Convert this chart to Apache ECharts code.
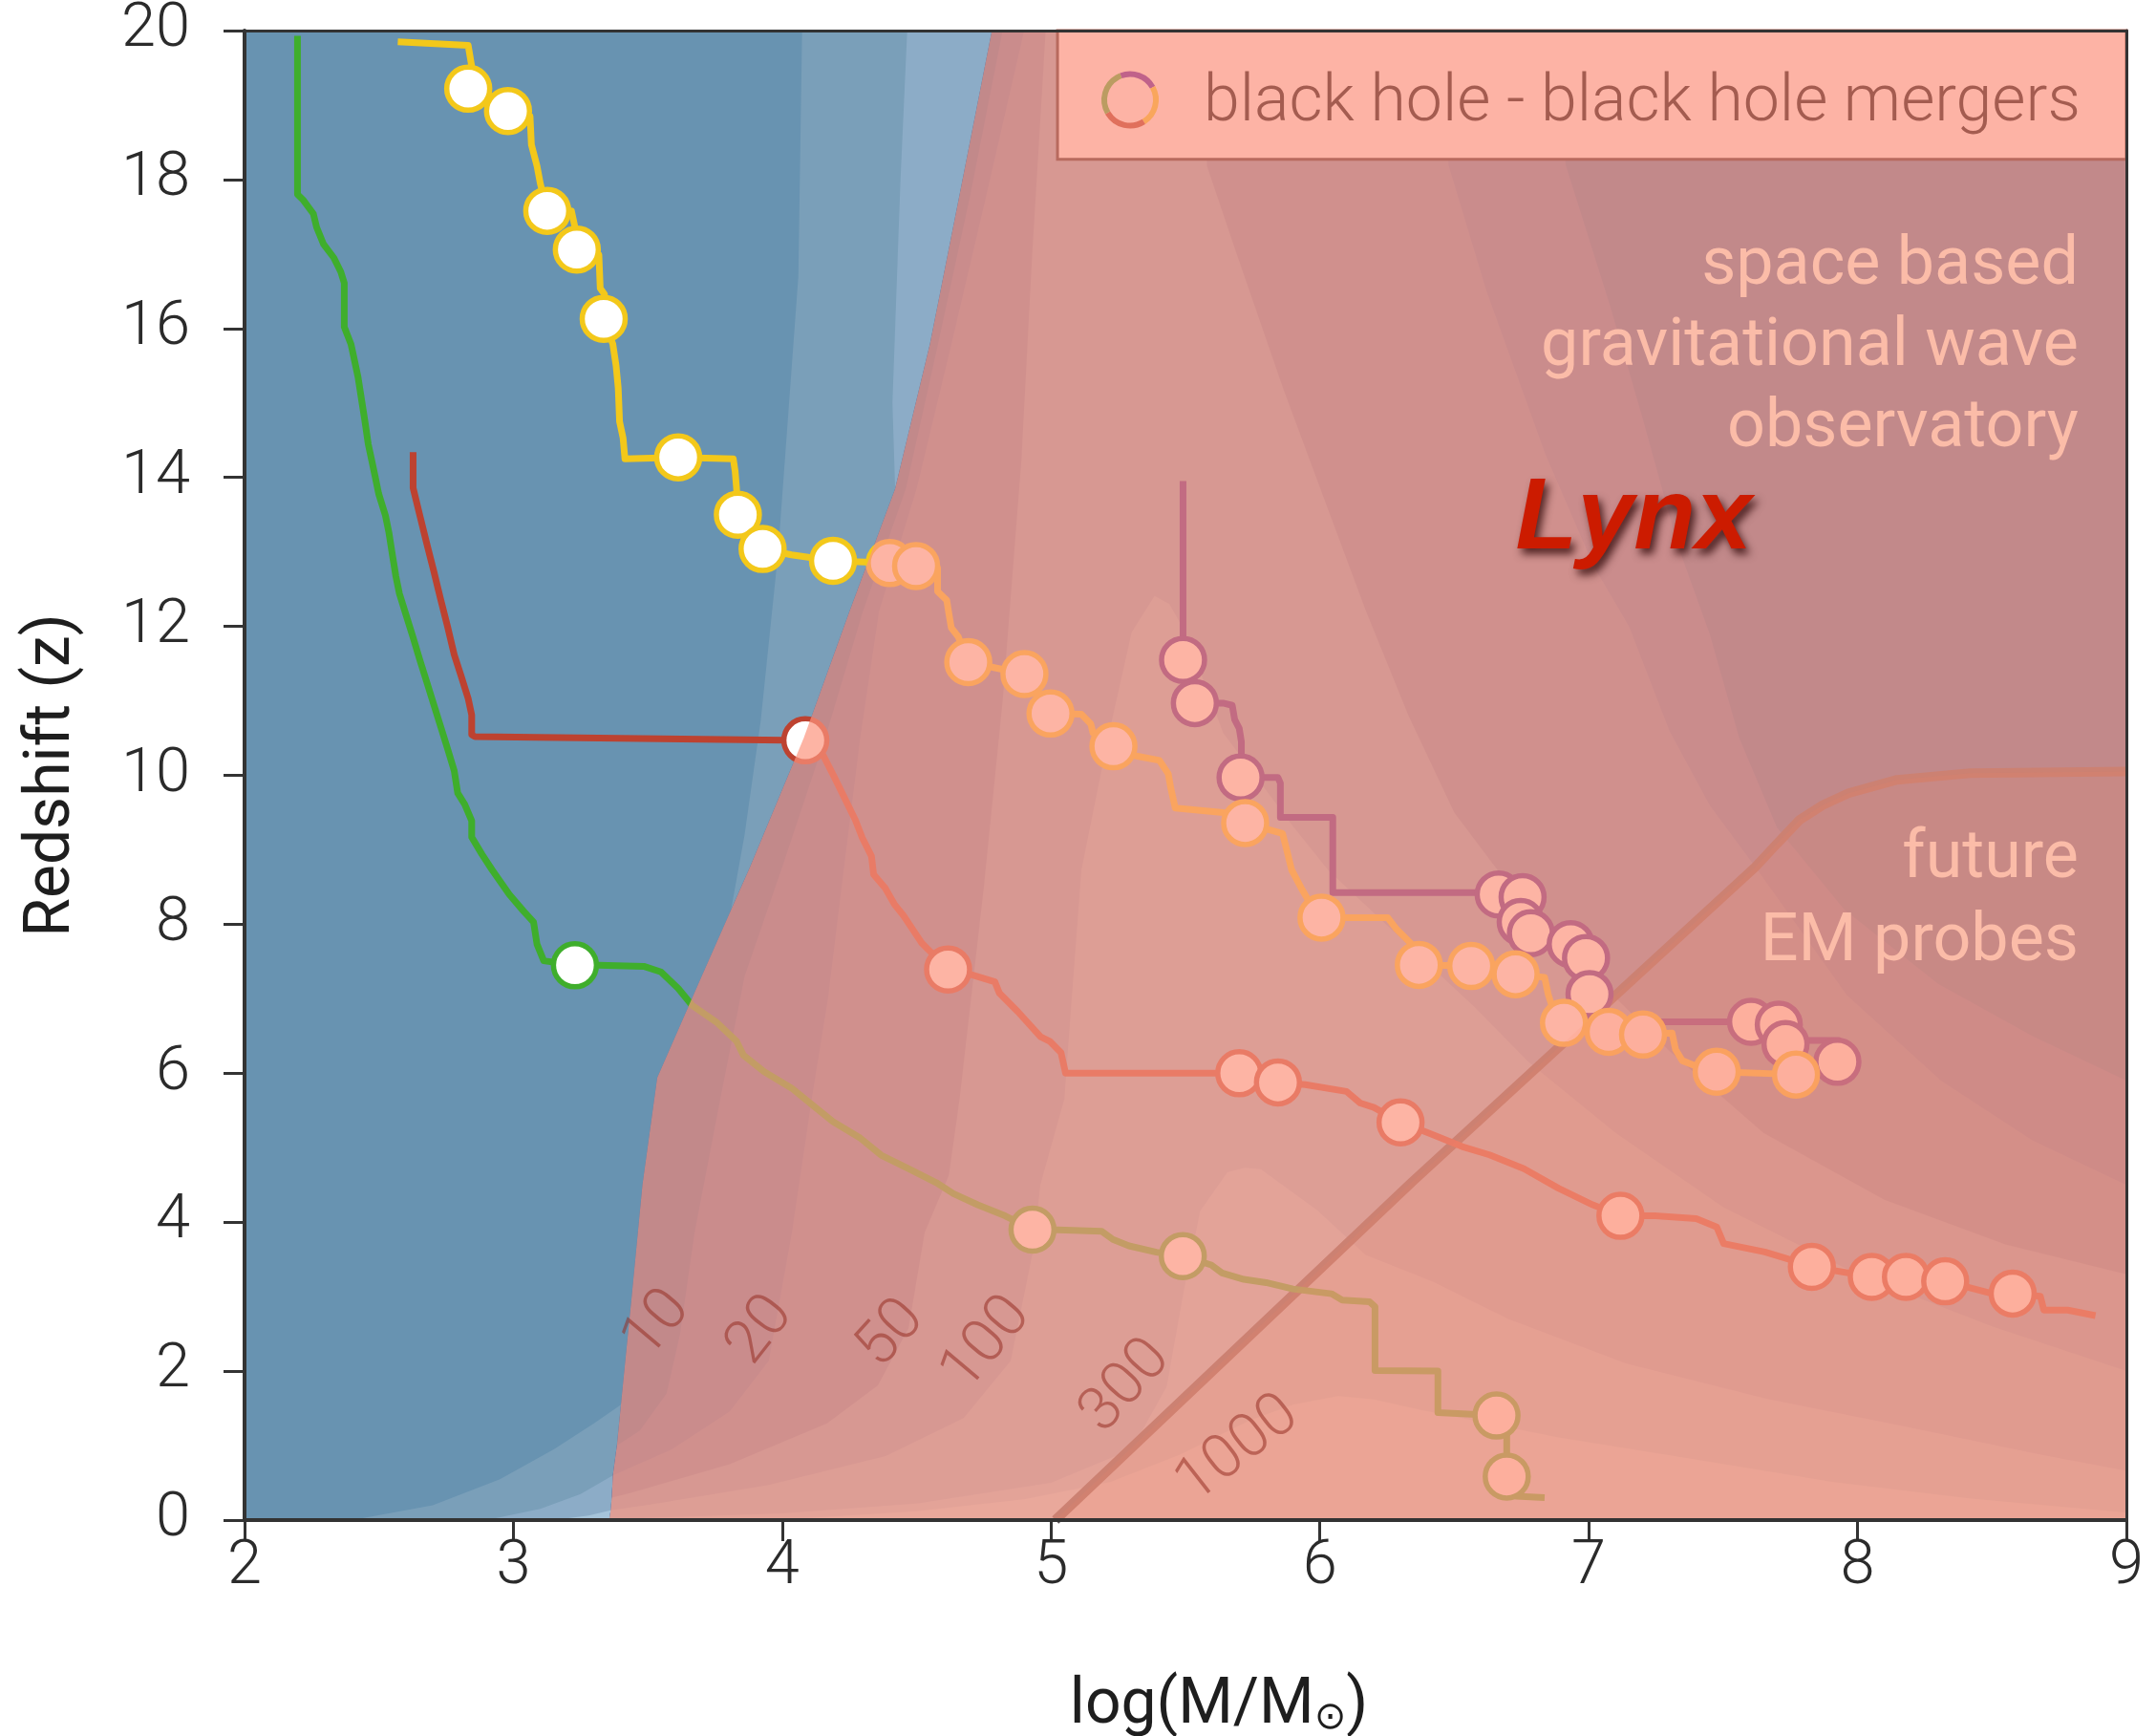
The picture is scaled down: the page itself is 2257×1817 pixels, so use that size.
<!DOCTYPE html>
<html>
<head>
<meta charset="utf-8">
<title>Black hole mergers - redshift vs mass</title>
<script src="https://cdn.jsdelivr.net/npm/echarts@6.0.0/dist/echarts.min.js"></script>
<style>
  html, body { margin: 0; padding: 0; background: #fff; }
  #chart { width: 2257px; height: 1817px; }
</style>
</head>
<body>
<div id="chart"></div>
<script>
// axes
var massTicks = [2, 3, 4, 5, 6, 7, 8, 9];
var zTicks = [0, 2, 4, 6, 8, 10, 12, 14, 16, 18, 20];

// merger tree tracks  [log M, z]
var yellowTrack = [[2.57,19.85],[2.832,19.80],[2.845,19.52],[2.832,19.22],[2.98,18.92],[3.062,18.85],[3.067,18.47],[3.088,18.18],[3.10,17.95],[3.126,17.58],[3.216,17.58],[3.229,17.36],[3.236,17.06],[3.318,16.99],[3.323,16.54],[3.339,16.46],[3.336,16.13],[3.37,15.79],[3.382,15.5],[3.39,15.2],[3.395,14.75],[3.408,14.53],[3.415,14.25],[3.613,14.27],[3.818,14.25],[3.825,14.08],[3.83,13.86],[3.835,13.5],[3.927,13.04],[4.035,12.96],[4.189,12.88],[4.40,12.85],[4.498,12.81],[4.578,12.78],[4.578,12.47],[4.612,12.35],[4.62,12.17],[4.629,11.98],[4.655,11.86],[4.692,11.52],[4.901,11.36],[4.998,10.83],[5.113,10.82],[5.148,10.69],[5.156,10.57],[5.232,10.39],[5.317,10.26],[5.403,10.2],[5.436,10.02],[5.445,9.835],[5.462,9.56],[5.64,9.5],[5.722,9.36],[5.861,9.22],[5.878,8.98],[5.895,8.73],[5.93,8.49],[5.98,8.18],[6.006,8.09],[6.252,8.09],[6.286,7.93],[6.337,7.75],[6.368,7.455],[6.563,7.44],[6.728,7.33],[6.836,7.286],[6.849,7.063],[6.862,6.914],[6.908,6.676],[7.074,6.556],[7.202,6.519],[7.31,6.54],[7.323,6.318],[7.348,6.169],[7.4,6.095],[7.476,6.02],[7.771,5.983]];
var yellowMergers = [[2.832,19.22],[2.98,18.92],[3.126,17.58],[3.236,17.06],[3.336,16.13],[3.613,14.27],[3.835,13.5],[3.927,13.04],[4.189,12.88],[4.40,12.85],[4.498,12.81],[4.692,11.52],[4.901,11.36],[4.998,10.83],[5.232,10.39],[5.722,9.36],[6.006,8.09],[6.368,7.455],[6.563,7.44],[6.728,7.33],[6.908,6.676],[7.074,6.556],[7.202,6.519],[7.476,6.02],[7.771,5.983]];

var greenTrack = [[2.197,19.93],[2.197,17.80],[2.217,17.73],[2.256,17.54],[2.268,17.36],[2.294,17.13],[2.332,16.95],[2.358,16.76],[2.371,16.61],[2.371,16.02],[2.396,15.79],[2.409,15.57],[2.422,15.35],[2.435,15.05],[2.448,14.75],[2.46,14.45],[2.473,14.23],[2.486,14.01],[2.499,13.78],[2.524,13.49],[2.537,13.26],[2.55,12.96],[2.563,12.67],[2.576,12.44],[2.601,12.15],[2.627,11.85],[2.652,11.55],[2.678,11.25],[2.704,10.95],[2.729,10.66],[2.755,10.36],[2.78,10.06],[2.793,9.76],[2.819,9.61],[2.845,9.39],[2.845,9.17],[2.883,8.94],[2.921,8.73],[2.985,8.4],[3.037,8.18],[3.075,8.03],[3.088,7.73],[3.113,7.51],[3.229,7.45],[3.318,7.45],[3.485,7.435],[3.549,7.36],[3.613,7.14],[3.664,6.914],[3.754,6.69],[3.83,6.43],[3.856,6.24],[3.933,6.02],[4.035,5.8],[4.112,5.574],[4.189,5.35],[4.291,5.127],[4.368,4.9],[4.471,4.717],[4.573,4.531],[4.637,4.382],[4.727,4.233],[4.829,4.085],[4.931,3.9],[5.026,3.897],[5.189,3.876],[5.23,3.768],[5.29,3.682],[5.392,3.597],[5.49,3.545],[5.596,3.425],[5.636,3.318],[5.717,3.232],[5.8,3.189],[5.9,3.103],[6.043,3.039],[6.083,2.953],[6.185,2.931],[6.205,2.867],[6.205,2.009],[6.439,2.0],[6.439,1.442],[6.657,1.404],[6.695,1.2],[6.695,0.883],[6.695,0.585],[6.73,0.32],[6.836,0.302]];
var greenMergers = [[3.229,7.45],[4.931,3.9],[5.49,3.545],[6.657,1.404],[6.695,0.585]];

var redTrack = [[2.627,14.34],[2.627,13.86],[2.652,13.49],[2.678,13.11],[2.704,12.74],[2.729,12.37],[2.755,12.0],[2.78,11.62],[2.806,11.33],[2.832,11.03],[2.845,10.81],[2.845,10.545],[2.857,10.52],[4.009,10.47],[4.086,10.47],[4.153,10.265],[4.196,9.96],[4.23,9.71],[4.272,9.4],[4.298,9.16],[4.332,8.915],[4.34,8.67],[4.383,8.485],[4.417,8.27],[4.451,8.117],[4.485,7.933],[4.519,7.749],[4.561,7.596],[4.617,7.393],[4.706,7.32],[4.791,7.227],[4.808,7.074],[4.876,6.828],[4.961,6.491],[4.995,6.43],[5.037,6.276],[5.054,6.0],[5.7,6.0],[5.844,5.877],[5.946,5.847],[6.099,5.755],[6.15,5.6],[6.201,5.54],[6.3,5.34],[6.401,5.201],[6.529,5.015],[6.631,4.904],[6.759,4.717],[6.887,4.457],[7.015,4.233],[7.118,4.085],[7.246,4.085],[7.4,4.047],[7.476,3.936],[7.502,3.712],[7.655,3.6],[7.758,3.489],[7.83,3.4],[8.053,3.266],[8.18,3.266],[8.326,3.206],[8.5,3.042],[8.577,3.042],[8.68,3.005],[8.693,2.819],[8.782,2.819],[8.885,2.745]];
var redMergers = [[4.086,10.47],[4.617,7.393],[5.7,6.0],[5.844,5.877],[6.3,5.34],[7.118,4.085],[7.83,3.4],[8.053,3.266],[8.18,3.266],[8.326,3.206],[8.577,3.042]];

var purpleTrack = [[5.491,13.95],[5.491,11.55],[5.535,10.97],[5.64,10.97],[5.674,10.94],[5.683,10.75],[5.70,10.63],[5.708,10.45],[5.708,10.26],[5.705,9.97],[5.793,9.97],[5.844,9.97],[5.853,9.896],[5.853,9.436],[6.048,9.436],[6.048,8.424],[6.575,8.424],[6.665,8.4],[6.754,8.365],[6.747,8.03],[6.785,7.88],[6.933,7.733],[6.99,7.547],[7.003,7.063],[7.01,6.69],[7.604,6.69],[7.707,6.653],[7.732,6.44],[7.93,6.44],[7.925,6.154]];
var purpleMergers = [[5.491,11.55],[5.535,10.97],[5.705,9.97],[6.665,8.4],[6.754,8.365],[6.747,8.03],[6.785,7.88],[6.933,7.733],[6.99,7.547],[7.003,7.063],[7.604,6.69],[7.707,6.653],[7.732,6.393],[7.925,6.154]];

// future EM probes limit
var emLimit = [[5.016,0],[6.343,4.54],[7.62,8.77],[7.70,9.08],[7.784,9.40],[7.87,9.6],[7.966,9.76],[8.147,9.94],[8.419,10.03],[9,10.05]];

// edge of the gravitational wave detectable region (bottom -> top)
var gwEdge = [[3.357,0],[3.362,0.13],[3.366,0.3],[3.37,0.6],[3.385,1.0],[3.40,1.55],[3.44,3.0],[3.48,4.5],[3.535,5.94],[3.70,7.3],[3.88,8.77],[4.08,10.5],[4.25,12.2],[4.42,13.85],[4.55,15.8],[4.66,17.8],[4.78,20]];

// Lynx sensitivity bands
var lynx1Upper = [[4.074,20],[4.06,16.7],[3.984,12.96],[3.92,10.73],[3.86,9.2],[3.81,8.2]];
var lynx2Upper = [[4.465,20],[4.44,18],[4.425,16.5],[4.41,15],[4.42,13.85]];
var lynx1Lower = [[2.4,0],[2.7,0.2],[2.95,0.55],[3.15,0.95],[3.3,1.3],[3.40,1.55]];
var lynx2Lower = [[2.9,0],[3.1,0.15],[3.25,0.35],[3.37,0.6]];
var lynx3Lower = [[3.15,0],[3.28,0.06],[3.362,0.13]];

// SNR contours: left side top->bottom, right side right edge->top
var snr10Left = [[4.82,20],[4.70,17.8],[4.58,15.8],[4.46,13.85],[4.30,12.2],[4.16,10.5],[4.0,8.77],[3.86,7.3],[3.77,5.66],[3.674,3.86],[3.62,2.5],[3.57,1.7],[3.47,1.2],[3.385,1.0]];
var snr10Right = [[9,5.9],[8.65,6.5],[8.3,7.2],[7.95,8.2],[7.70,9.3],[7.56,10.5],[7.45,11.9],[7.33,13.1],[7.2,14.8],[7.08,16.3],[6.914,18.2],[6.9,20]];
var snr20Left = [[4.90,20],[4.76,17.8],[4.63,15.8],[4.50,13.85],[4.36,12.2],[4.29,10.5],[4.23,8.77],[4.17,7.0],[4.11,5.66],[4.036,3.86],[3.95,2.14],[3.805,1.46],[3.589,0.95],[3.37,0.6]];
var snr20Right = [[9,4.5],[8.65,5.1],[8.31,5.9],[7.96,7.05],[7.62,8.77],[7.45,9.6],[7.30,10.6],[7.15,12.0],[7.02,12.8],[6.84,14.3],[6.62,16.5],[6.478,18.2],[6.48,20]];
var snr50Left = [[4.98,20],[4.93,17],[4.89,14.25],[4.82,11],[4.75,8.5],[4.66,5.66],[4.62,4.63],[4.53,3.86],[4.47,2.58],[4.356,1.81],[4.167,1.30],[3.805,0.75],[3.44,0.37],[3.366,0.3]];
var snr50Right = [[9,3.3],[8.55,3.7],[8.1,4.3],[7.65,5.2],[7.3,6.3],[7.02,7.3],[6.75,8.3],[6.5,9.5],[6.33,10.8],[6.17,12.22],[6.016,13.71],[5.863,15.2],[5.685,17.06],[5.58,18.18],[5.57,20]];
var snr100Left = [[5.385,12.41],[5.30,11.92],[5.216,10.57],[5.113,8.73],[5.062,6.28],[5.05,5.66],[4.96,4.5],[4.935,3.65],[4.85,2.14],[4.675,1.37],[4.385,0.86],[3.95,0.47],[3.51,0.21],[3.362,0.13]];
var snr100Right = [[9,2.0],[8.5,2.6],[8.0,3.3],[7.5,4.2],[7.1,5.2],[6.776,6.15],[6.575,6.89],[6.32,7.75],[6.03,8.73],[5.895,9.34],[5.64,10.57],[5.50,11.92],[5.44,12.3]];
var snr300Left = [[5.72,4.73],[5.656,4.67],[5.555,4.15],[5.494,3.08],[5.43,1.79],[5.3,0.95],[5.0,0.5],[4.5,0.22],[4.0,0.09],[3.5,0.03],[3.357,0]];
var snr300Right = [[9,0.66],[8.68,0.88],[8.17,1.26],[7.66,1.63],[7.14,2.1],[6.7,2.7],[6.42,3.2],[6.17,3.56],[5.99,4.16],[5.78,4.71]];
var snr1000Left = [[6.068,1.665],[5.9,1.55],[5.735,1.33],[5.48,0.88],[5.22,0.51],[4.9,0.28],[4.5,0.12],[4.1,0.03],[3.9,0]];
var snr1000Right = [[9,0.1],[8.42,0.29],[7.91,0.51],[7.4,0.81],[6.887,1.11],[6.375,1.48],[6.2,1.62]];

var snrLevels = ['10', '20', '50', '100', '300', '1000'];
var snrLabelAt = [[3.537,2.62],[3.921,2.54],[4.407,2.49],[4.763,2.36],[5.28,1.79],[5.697,0.94]];
var snrLabelAngle = [50, 52, 48, 50, 48, 38];

// ---------------------------------------------------------------
var FONT = 'Roboto, "Noto Sans", sans-serif';
var PINK = [252, 148, 126], ALPHA = 0.7;

// colour to paint under the pink veil so the result shows colour f
function under(f) {
  return 'rgb(' + f.map(function (c, i) {
    return Math.max(0, Math.min(255, Math.round((c - ALPHA * PINK[i]) / (1 - ALPHA))));
  }).join(',') + ')';
}

function edgeAbove(z) { return gwEdge.filter(function (p) { return p[1] > z; }); }
function edgeBelow(z) { return gwEdge.filter(function (p) { return p[1] < z; }).reverse(); }

function band(left, right) {
  return left.concat(edgeBelow(left[left.length - 1][1]), [[9, 0]], right);
}

function poly(pts, fill, z) {
  return {
    type: 'custom', silent: true, z: z, clip: true,
    data: [[pts[0][0], pts[0][1]]],
    renderItem: function (params, api) {
      return {
        type: 'polygon',
        shape: { points: pts.map(function (p) { return api.coord(p); }) },
        style: { fill: fill }
      };
    }
  };
}

function track(data, color) {
  return {
    type: 'line', data: data, z: 13, silent: true, showSymbol: false, symbol: 'none',
    lineStyle: { color: color, width: 7, join: 'round' }
  };
}

function mergers(data, color) {
  return {
    type: 'scatter', data: data, z: 14, silent: true, symbol: 'circle', symbolSize: 45,
    itemStyle: { color: '#ffffff', borderColor: color, borderWidth: 5.5, opacity: 1 }
  };
}

var gwRegion = gwEdge.concat([[9, 20], [9, 0]]);
var emRegion = emLimit.concat([[9, 0]]);

var series = [
  poly([[2, 0], [2, 20], [9, 20], [9, 0]], '#6893b1', 1),
  poly(lynx1Upper.concat(edgeAbove(8.2)), '#7a9fb9', 2),
  poly(lynx1Lower.concat(edgeBelow(1.55)), '#7a9fb9', 2),
  poly(lynx2Upper.concat(edgeAbove(13.85)), '#8cacc7', 3),
  poly(lynx2Lower.concat(edgeBelow(0.6)), '#8cacc7', 3),
  poly(lynx3Lower.concat(edgeBelow(0.13)), '#a6c4da', 4),
  poly(gwRegion, under([194, 137, 139]), 5),
  poly(band(snr10Left, snr10Right), under([202, 140, 141]), 6),
  poly(band(snr20Left, snr20Right), under([208, 144, 142]), 7),
  poly(band(snr50Left, snr50Right), under([215, 152, 146]), 8),
  poly(band(snr100Left, snr100Right), under([221, 158, 150]), 9),
  poly(band(snr300Left, snr300Right), under([227, 163, 153]), 10),
  poly(band(snr1000Left, snr1000Right), under([233, 168, 155]), 11),
  {
    type: 'line', data: emLimit, z: 12, silent: true, showSymbol: false, symbol: 'none',
    lineStyle: { color: under([204, 129, 115]), width: 10 }
  },
  track(greenTrack, '#3fae2c'),
  track(redTrack, '#bd4230'),
  track(purpleTrack, '#3a0a8c'),
  track(yellowTrack, '#f3c81a'),
  mergers(greenMergers, '#3fae2c'),
  mergers(redMergers, '#bd4230'),
  mergers(purpleMergers, '#3a0a8c'),
  mergers(yellowMergers, '#f3c81a'),
  poly(gwRegion, 'rgba(252,148,126,0.7)', 15),
  poly(emRegion, 'rgba(255,140,100,0.1)', 16)
];

var axisLine = { show: true, onZero: false, lineStyle: { color: '#333', width: 4 } };
var axisTick = { show: true, inside: false, length: 22, lineStyle: { color: '#333', width: 3 } };
var tickFont = { fontFamily: FONT, fontWeight: 300, fontSize: 65, color: '#2b2b2b' };

var option = {
  animation: false,
  backgroundColor: '#ffffff',
  grid: { left: 256, right: 31, top: 32, bottom: 226, containLabel: false, outerBoundsMode: 'none' },
  xAxis: [{
    type: 'value', position: 'bottom', z: 40,
    min: massTicks[0], max: massTicks[massTicks.length - 1], interval: 1,
    name: 'log(M/M{sun|⊙})', nameLocation: 'middle', nameGap: 162,
    nameTextStyle: {
      fontFamily: FONT, fontSize: 66, color: '#1e1e1e', padding: [0, 0, 0, 70],
      rich: { sun: { fontFamily: '"DejaVu Sans", sans-serif', fontSize: 40, color: '#1e1e1e', verticalAlign: 'bottom' } }
    },
    axisLine: axisLine, axisTick: axisTick,
    axisLabel: Object.assign({ margin: 17 }, tickFont),
    splitLine: { show: false }
  }, {
    type: 'value', position: 'top', z: 40, min: 2, max: 9,
    axisLine: { show: true, onZero: false, lineStyle: { color: '#333', width: 3 } },
    axisTick: { show: false }, axisLabel: { show: false }, splitLine: { show: false }
  }],
  yAxis: [{
    type: 'value', position: 'left', z: 40,
    min: zTicks[0], max: zTicks[zTicks.length - 1], interval: 2,
    name: 'Redshift (z)', nameLocation: 'middle', nameGap: 168, nameRotate: 90,
    nameTextStyle: { fontFamily: FONT, fontSize: 66, color: '#1e1e1e' },
    axisLine: axisLine, axisTick: axisTick,
    axisLabel: Object.assign({ margin: 57 }, tickFont),
    splitLine: { show: false }
  }, {
    type: 'value', position: 'right', z: 40, min: 0, max: 20,
    axisLine: { show: true, onZero: false, lineStyle: { color: '#333', width: 3 } },
    axisTick: { show: false }, axisLabel: { show: false }, splitLine: { show: false }
  }],
  series: series
};

var chart = echarts.init(document.getElementById('chart'), null, { renderer: 'canvas' });
chart.setOption(option);

function px(p) { return chart.convertToPixel({ xAxisIndex: 0, yAxisIndex: 0 }, p); }

var graphics = [];

// legend box
var boxTL = px([5.024, 20]), boxBR = px([9, 18.27]);
graphics.push({
  type: 'rect', z: 30, silent: true,
  shape: { x: boxTL[0], y: boxTL[1], width: boxBR[0] - boxTL[0], height: boxBR[1] - boxTL[1] },
  style: { fill: '#fdb3a5', stroke: '#b86a5e', lineWidth: 3 }
});
var ring = px([5.294, 19.07]);
[['#c0628a', -111, -29], ['#f9a65c', -29, 58], ['#e0705c', 58, 150], ['#bb9c62', 150, 249]].forEach(function (s) {
  graphics.push({
    type: 'arc', z: 31, silent: true,
    shape: { cx: ring[0], cy: ring[1], r: 27, startAngle: s[1] * Math.PI / 180, endAngle: s[2] * Math.PI / 180, clockwise: true },
    style: { stroke: s[0], lineWidth: 6, fill: null }
  });
});
graphics.push({
  type: 'text', z: 31, silent: true, x: ring[0] + 77, y: ring[1] + 5,
  style: { text: 'black hole - black hole mergers', fill: '#a45c50', font: '300 68px ' + FONT, align: 'left', verticalAlign: 'middle' }
});

// annotations
var gwText = px([8.822, 15.74]);
graphics.push({
  type: 'text', z: 30, silent: true, x: gwText[0], y: gwText[1],
  style: { text: 'space based\ngravitational wave\nobservatory', fill: '#fbbca8', font: '400 70px ' + FONT, align: 'right', verticalAlign: 'middle', lineHeight: 85 }
});
var emText = px([8.822, 8.3]);
graphics.push({
  type: 'text', z: 30, silent: true, x: emText[0], y: emText[1],
  style: { text: 'future\nEM probes', fill: '#fbbca8', font: '400 70px ' + FONT, align: 'right', verticalAlign: 'middle', lineHeight: 87 }
});
var lynx = px([7.167, 13.42]);
graphics.push({
  type: 'text', z: 30, silent: true, x: lynx[0], y: lynx[1],
  style: {
    text: 'Lynx', fill: '#cc1b00', font: 'italic bold 106px "Liberation Sans", Arial, sans-serif',
    align: 'center', verticalAlign: 'middle',
    shadowColor: 'rgba(40,0,0,0.75)', shadowBlur: 9, shadowOffsetX: 4, shadowOffsetY: 6,
    textShadowColor: 'rgba(40,0,0,0.75)', textShadowBlur: 9, textShadowOffsetX: 4, textShadowOffsetY: 6
  }
});

// SNR contour labels
snrLevels.forEach(function (lv, i) {
  var p = px(snrLabelAt[i]);
  graphics.push({
    type: 'text', z: 30, silent: true, x: p[0], y: p[1], rotation: snrLabelAngle[i] * Math.PI / 180,
    style: { text: lv, fill: 'rgba(150,45,35,0.55)', font: '300 64px ' + FONT, align: 'center', verticalAlign: 'middle' }
  });
});

chart.setOption({ graphic: graphics });
</script>
</body>
</html>
